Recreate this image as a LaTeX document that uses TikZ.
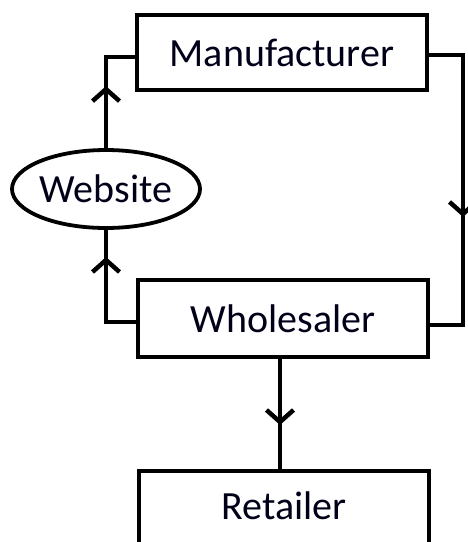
\documentclass[tikz,border=0pt]{standalone}
\usepackage{fontspec}
\setmainfont{Carlito}
\usetikzlibrary{arrows.meta,shapes.geometric,decorations.markings}
\tikzset{
  lbl/.style={font=\fontsize{40}{44}\selectfont, text=black!90!blue},
  box/.style={draw, line width=4pt, rectangle, minimum width=290pt, inner sep=0pt, lbl},
  oval/.style={draw, line width=3.8pt, ellipse, minimum width=188pt, minimum height=78pt, inner sep=0pt, lbl},
  conn/.style={line width=4pt},
  midarrow/.style={postaction={decorate}, decoration={markings, mark=at position #1 with {\arrow{Straight Barb[length=12pt,width=27pt,line width=4.5pt]}}}}
}
\begin{document}
\begin{tikzpicture}[x=1pt,y=-1pt]
\useasboundingbox (0,0) rectangle (468,542);
\clip (0,0) rectangle (468,542);
\node[box, minimum height=75pt] (man) at (282,52.5) {Manufacturer};
\node[oval] (web) at (106,189) {Website};
\node[box, minimum height=77pt] (who) at (283,318.5) {Wholesaler};
\node[box, minimum height=130pt, anchor=north] (ret) at (284,469) {};
\node[lbl] (rettext) at (284,506) {Retailer};
\draw[conn, midarrow=62pt] (web.north) |- ([yshift=-4.5pt]man.west);
\draw[conn, midarrow=95pt] ([yshift=-3.5pt]who.west) -| (web.south);
\draw[conn, midarrow=196pt] ([yshift=-2.5pt]man.east) -| ++(34,0) |- ([yshift=-6.5pt]who.east);
\draw[conn, midarrow=66pt] ([xshift=-3pt]who.south) -- ([xshift=-4pt]ret.north);
\end{tikzpicture}
\end{document}
